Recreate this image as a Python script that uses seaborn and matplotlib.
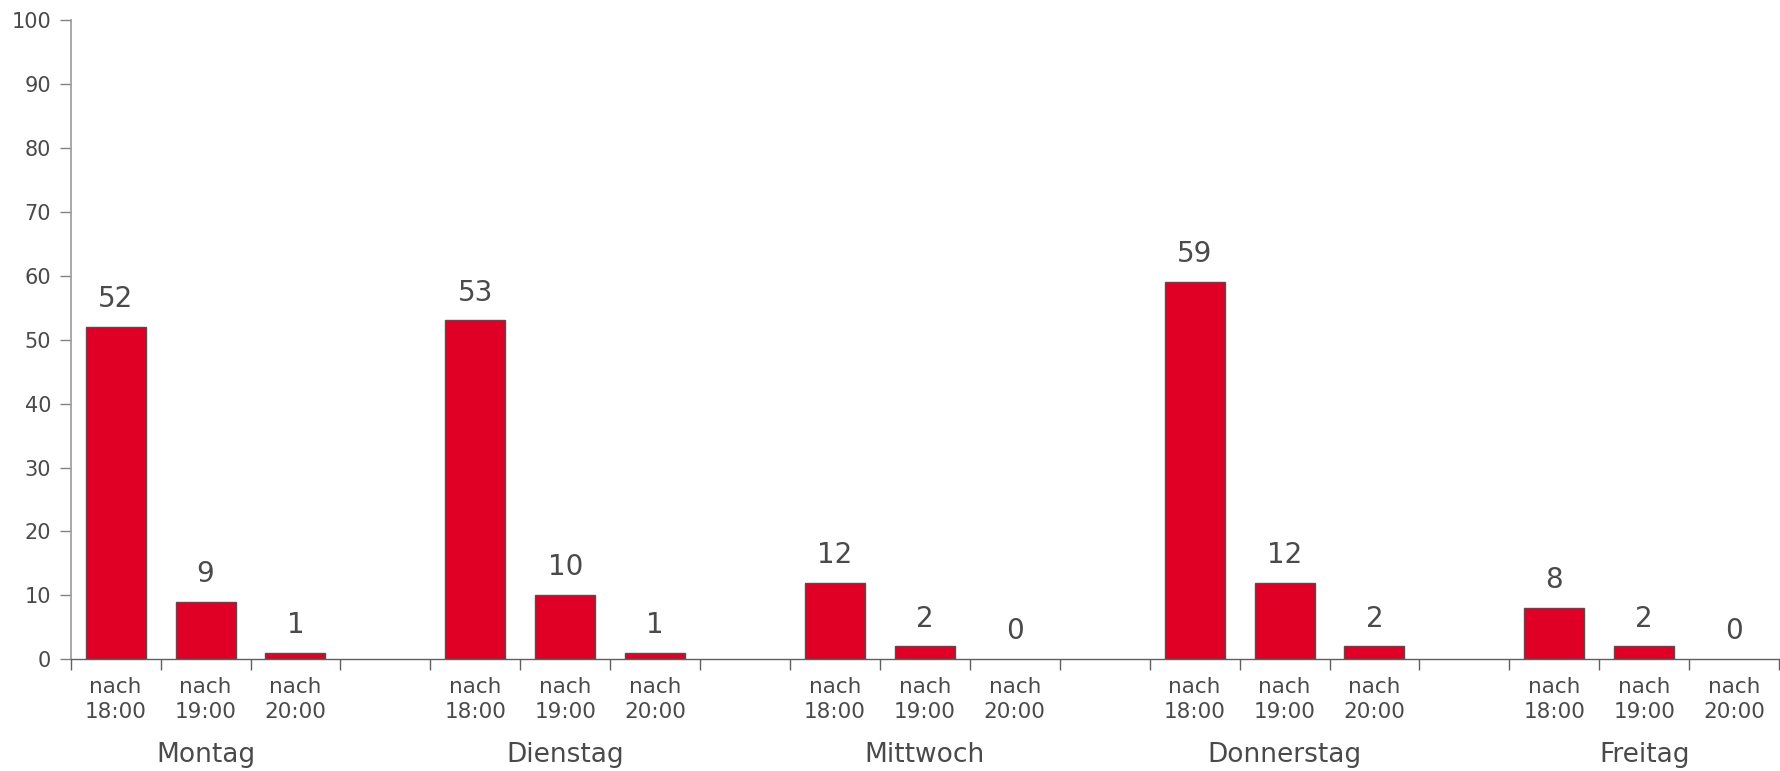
import matplotlib
matplotlib.use("Agg")
import matplotlib.pyplot as plt
import matplotlib.transforms as mtransforms
import seaborn as sns
import pandas as pd

days = ["Montag", "Dienstag", "Mittwoch", "Donnerstag", "Freitag"]
times = ["nach\n18:00", "nach\n19:00", "nach\n20:00"]
v18 = [52, 53, 12, 59, 8]
v19 = [9, 10, 2, 12, 2]
v20 = [1, 1, 0, 2, 0]
yticks = [0, 10, 20, 30, 40, 50, 60, 70, 80, 90, 100]

sns.set_theme(style="white")
plt.rcParams["font.family"] = ["DejaVu Sans"]

rows = []
order = []
for di, d in enumerate(days):
    for ti, (t, vals) in enumerate(zip(times, [v18, v19, v20])):
        key = f"{d}|{ti}"
        rows.append({"slot": key, "value": vals[di], "time": t, "day": d})
        order.append(key)
    if di < len(days) - 1:
        order.append(f"gap{di}")
df = pd.DataFrame(rows)

fig = plt.figure(figsize=(17.8, 7.71), dpi=100)
ax = fig.add_axes([0.0397, 0.1449, 0.9598, 0.8291])

sns.barplot(data=df, x="slot", y="value", order=order, color="#E00025",
            saturation=1, width=0.667, edgecolor="#505050", linewidth=1.0,
            errorbar=None, ax=ax)

TXT = "#4a4a4a"
for c in ax.containers:
    for patch, v in zip(c.patches, c.datavalues):
        if v == 0:
            patch.set_linewidth(0)
    ax.bar_label(c, labels=[f"{int(v)}" for v in c.datavalues], padding=10,
                 fontsize=20, color=TXT)

ax.set_ylim(0, 100)
ax.set_yticks(yticks)
ax.set_xlim(-0.5, len(order) - 0.5)

ax.set_xticks([i - 0.5 for i in range(len(order) + 1)])
ax.set_xticklabels([])
pos = {k: i for i, k in enumerate(order)}
ax.set_xticks([pos[k] for k in df["slot"]], minor=True)
ax.set_xticklabels(list(df["time"]), minor=True, fontsize=15.5, color=TXT,
                   linespacing=1.3)
ax.tick_params(axis="x", which="major", length=8, width=1, color="#606060",
               direction="out", bottom=True)
ax.tick_params(axis="x", which="minor", length=0, pad=13)
ax.tick_params(axis="y", length=8, width=1, color="#808080", direction="out",
               labelsize=15, labelcolor=TXT, left=True, pad=6)

trans = mtransforms.blended_transform_factory(ax.transData, fig.transFigure)
for d in days:
    ax.text(pos[f"{d}|1"], (771 - 755) / 771, d, transform=trans,
            ha="center", va="center", fontsize=19, color=TXT)

ax.set_xlabel("")
ax.set_ylabel("")
for s in ["top", "right"]:
    ax.spines[s].set_visible(False)
ax.spines["left"].set_color("#9a9a9a")
ax.spines["left"].set_linewidth(1.2)
ax.spines["bottom"].set_color("#606060")
ax.spines["bottom"].set_linewidth(1.0)

fig.savefig("out.png", dpi=100, facecolor="white")
